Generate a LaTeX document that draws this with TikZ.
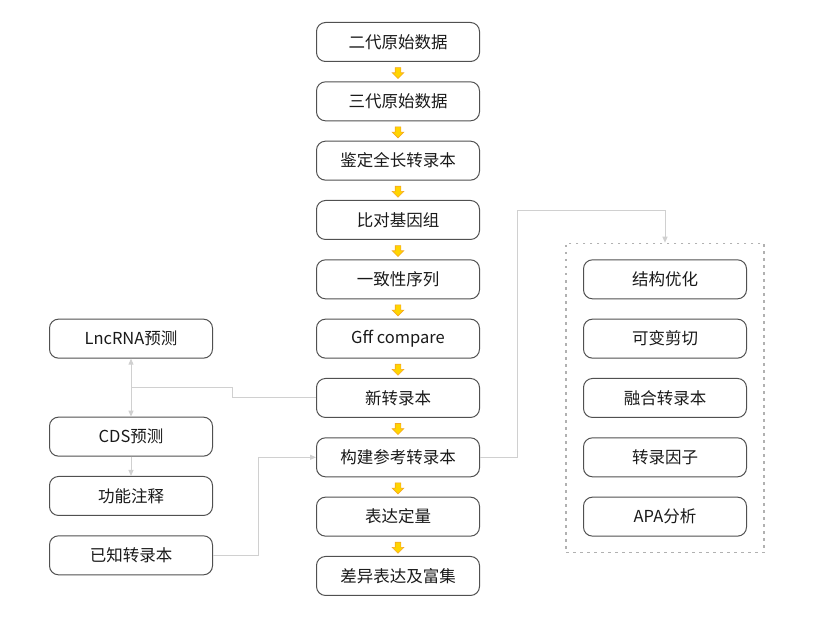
\documentclass[tikz,border=0pt]{standalone}
\usepackage{fontspec}
\setmainfont{Noto Sans CJK SC}
\usetikzlibrary{arrows.meta,positioning,fit,shapes.arrows,calc}
\definecolor{edge}{HTML}{505050}
\definecolor{lgray}{HTML}{D0D0D0}
\definecolor{yel}{HTML}{FFD500}
\definecolor{org}{HTML}{F5A623}
\tikzset{
  box/.style={draw=edge,line width=1pt,rounded corners=9pt,minimum width=163pt,minimum height=39pt,align=center,font=\fontsize{16.5}{19}\selectfont,text=black!90},
  yar/.style={single arrow,draw=org,fill=yel,line width=0.6pt,shape border rotate=270,minimum height=11pt,inner sep=2.5pt,single arrow head extend=3pt},
  gl/.style={draw=lgray,line width=1pt},
  ar/.style={gl,-{Triangle[length=6pt,width=5pt]}},
}
\begin{document}
\begin{tikzpicture}[x=1pt,y=-1pt,node distance=19.33pt]
\useasboundingbox (0,0) rectangle (817,639);
\node[box] (m1) at (398,42) {二代原始数据};
\node[box,below=of m1] (m2) {三代原始数据};
\node[box,below=of m2] (m3) {鉴定全长转录本};
\node[box,below=of m3] (m4) {比对基因组};
\node[box,below=of m4] (m5) {一致性序列};
\node[box,below=of m5] (m6) {Gff compare};
\node[box,below=of m6] (m7) {新转录本};
\node[box,below=of m7] (m8) {构建参考转录本};
\node[box,below=of m8] (m9) {表达定量};
\node[box,below=of m9] (m10) {差异表达及富集};
\foreach \i [count=\j from 2] in {1,...,9}
  \node[yar] (y\i) at ($(m\i.south)!0.5!(m\j.north)$) {};
\node[box,left=103pt of m6] (lnc) {LncRNA预测};
\node[box,below=58pt of lnc] (cds) {CDS预测};
\node[box,below=of cds] (fn) {功能注释};
\node[box,below=of fn] (kn) {已知转录本};
\node[box,right=103pt of m5] (r1) {结构优化};
\node[box,below=of r1] (r2) {可变剪切};
\node[box,below=of r2] (r3) {融合转录本};
\node[box,below=of r3] (r4) {转录因子};
\node[box,below=of r4] (r5) {APA分析};
\node[draw=lgray!85!black,line width=1.2pt,dash pattern=on 2.5pt off 4.5pt,fit=(r1)(r5),inner xsep=17pt,inner ysep=16pt] (grp) {};
\coordinate (jn) at ($(lnc.south)!0.5!(cds.north)$);
\coordinate (tp) at ($(grp.north)+(0,-32)$);
\draw[gl] (m7.west) -- ++(-84,0) |- (jn);
\draw[ar] (jn) -- (lnc.south);
\draw[ar] (jn) -- (cds.north);
\draw[ar] (cds) -- (fn);
\draw[ar] (kn.east) -- ++(45,0) |- (m8.west);
\draw[ar] (m8.east) -- ++(37,0) |- (tp) -- (grp.north);
\end{tikzpicture}
\end{document}
